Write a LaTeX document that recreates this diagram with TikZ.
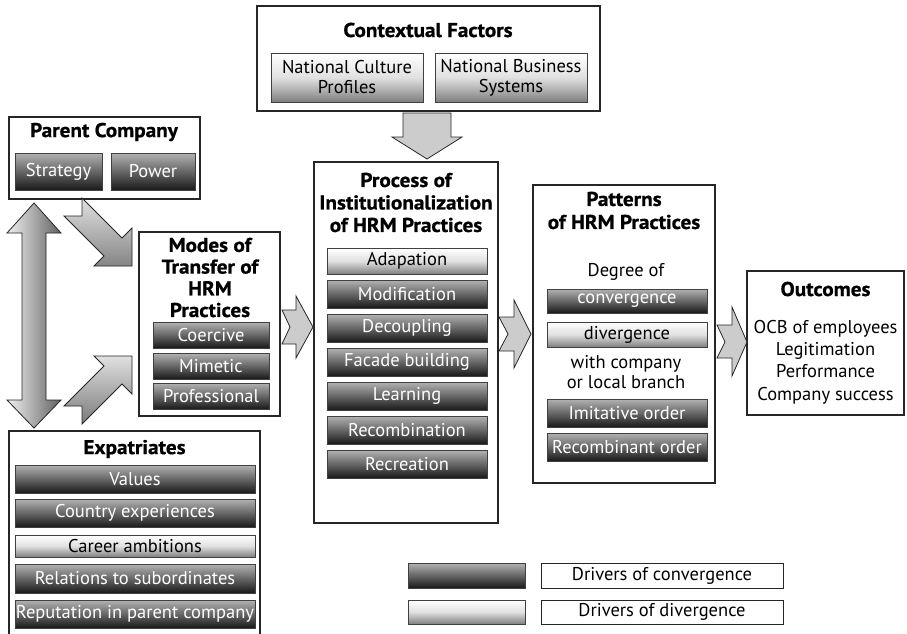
\documentclass[tikz,border=0pt]{standalone}
\usepackage{fontspec}
\setmainfont{PT Sans}
\newfontfamily\headfont{PT Sans}[UprightFont={* Bold}, FakeStretch=1.06, FakeBold=0.8]
\tikzset{
  frame/.style={draw=black!85, line width=1.3pt, fill=white},
  bartext/.style={font=\fontsize{18.5}{20}\selectfont},
  darkbar/.style={draw=black!75, line width=0.9pt, top color=black!30, bottom color=black!90, middle color=black!60, text=white, inner sep=0pt, bartext},
  lightbar/.style={draw=black!75, line width=0.9pt, top color=white, bottom color=black!50, middle color=black!12, text=black, inner sep=0pt, bartext},
  plainbox/.style={draw=black!85, line width=0.8pt, fill=white, inner sep=0pt, bartext},
  heading/.style={font=\headfont\fontsize{20}{22}\selectfont, align=center, inner sep=0pt},
  plaintext/.style={bartext, align=center, inner sep=0pt},
  blockarrow/.style={draw=black!85, line width=0.8pt, fill=black!20, line join=miter},
}
% box given by its corners: style, name, x1, y1, x2, y2, text
\newcommand\cornerbox[7]{\node[#1, minimum width={#5-#3}, minimum height={#6-#4}, align=center]
  (#2) at ({(#3+#5)/2},{(#4+#6)/2}) {#7};}
\begin{document}
\begin{tikzpicture}[x=1pt,y=-1pt]
\useasboundingbox (0,0) rectangle (907,633);

% ---------- frames ----------
\draw[frame] (257,6) rectangle (600,111);
\node[heading] (ctxtitle) at (428,30) {Contextual Factors};
\cornerbox{lightbar}{culture}{271}{53}{423}{102}{National Culture\\Profiles}
\cornerbox{lightbar}{business}{435}{53}{587}{102}{National Business\\Systems}

\draw[frame] (9,117) rectangle (200,199);
\node[heading] (parenttitle) at (104,132) {Parent Company};
\cornerbox{darkbar}{strategy}{15}{153}{102}{190}{Strategy}
\cornerbox{darkbar}{power}{111}{153}{195}{190}{Power}

\draw[frame] (139,232) rectangle (280,416);
\node[heading, font=\headfont\fontsize{20}{21.7}\selectfont] (modestitle) at (210,277.5) {Modes of\\Transfer of\\HRM\\Practices};
\cornerbox{darkbar}{coercive}{153}{322}{269}{348}{Coercive}
\cornerbox{darkbar}{mimetic}{153}{353}{269}{379}{Mimetic}
\cornerbox{darkbar}{professional}{153}{383}{269}{409}{Professional}

\draw[frame] (314,162) rectangle (498,523);
\node[heading, font=\headfont\fontsize{20}{22.5}\selectfont] (proctitle) at (406,202.5) {Process of\\Institutionalization\\of HRM Practices};
\cornerbox{lightbar}{adapation}{327}{248}{487}{274}{Adapation}
\cornerbox{darkbar}{modification}{327}{280}{487}{308}{Modification}
\cornerbox{darkbar}{decoupling}{327}{314}{487}{342}{Decoupling}
\cornerbox{darkbar}{facade}{327}{348}{487}{376}{Facade building}
\cornerbox{darkbar}{learning}{327}{382}{487}{410}{Learning}
\cornerbox{darkbar}{recombination}{327}{416}{487}{444}{Recombination}
\cornerbox{darkbar}{recreation}{327}{450}{487}{478}{Recreation}

\draw[frame] (533,185) rectangle (715,483);
\node[heading, font=\headfont\fontsize{20}{23}\selectfont] (pattitle) at (624,210.5) {Patterns\\of HRM Practices};
\node[plaintext] (degree) at (626,272) {Degree of};
\cornerbox{darkbar}{convergence}{547}{289}{707}{313}{convergence}
\cornerbox{lightbar}{divergence}{547}{322}{707}{347}{divergence}
\node[plaintext, font=\fontsize{18.5}{20}\selectfont] (withcompany) at (626,372) {with company\\or local branch};
\cornerbox{darkbar}{imitative}{547}{399}{707}{427}{Imitative order}
\cornerbox{darkbar}{recombinant}{547}{433}{707}{461}{Recombinant order}

\draw[frame] (747,271) rectangle (904,415);
\node[heading] (outtitle) at (825.5,289) {Outcomes};
\node[plaintext, font=\fontsize{18.5}{22.3}\selectfont] (outlist) at (825.5,362) {OCB of employees\\Legitimation\\Performance\\Company success};

% expatriates frame runs off the lower edge
\draw[frame, fill=none] (9,640) -- (9,431) -- (260,431) -- (260,640);
\node[heading] (exptitle) at (134.5,449) {Expatriates};
\cornerbox{darkbar}{values}{15}{465}{255}{493}{Values}
\cornerbox{darkbar}{country}{15}{499}{255}{527}{Country experiences}
\cornerbox{lightbar}{career}{15}{535}{255}{557}{Career ambitions}
\cornerbox{darkbar}{relations}{15}{564}{255}{593}{Relations to subordinates}
\cornerbox{darkbar}{reputation}{15}{600}{255}{628}{Reputation in parent company}

% ---------- legend ----------
\cornerbox{darkbar}{keydark}{408}{563}{525}{588}{}
\cornerbox{plainbox}{keyconv}{541}{563}{783}{588}{Drivers of convergence}
\cornerbox{lightbar}{keylight}{408}{600}{525}{624}{}
\cornerbox{plainbox}{keydiv}{541}{600}{783}{624}{Drivers of divergence}

% ---------- block arrows ----------
% contextual factors down into the process
\draw[blockarrow] (403,113) -- (451,113) -- (451,137) -- (462,137) -- (427,159)
  -- (392,137) -- (403,137) -- cycle;
% modes -> process
\draw[blockarrow] (282,310) -- (296,310) -- (296,296) -- (313,327) -- (296,358)
  -- (296,344) -- (282,344) -- (290,327) -- cycle;
% process -> patterns
\draw[blockarrow] (499,317) -- (514,317) -- (514,300) -- (531,334) -- (514,368)
  -- (514,351) -- (499,351) -- (508,334) -- cycle;
% patterns -> outcomes
\draw[blockarrow] (717,325) -- (732,325) -- (732,307) -- (747,342) -- (732,376)
  -- (732,358) -- (717,358) -- (725,342) -- cycle;
% parent company -> modes
\draw[blockarrow, top color=black!12, bottom color=black!48] (82,198) -- (122,238) -- (132,228)
  -- (132,266) -- (94,266) -- (104,256) -- (64,216) -- (82,216) -- cycle;
% expatriates -> modes
\draw[blockarrow, top color=black!12, bottom color=black!52] (82,424) -- (122,384) -- (132,394)
  -- (132,356) -- (94,356) -- (104,366) -- (64,406) -- (82,406) -- cycle;
% parent company <-> expatriates
\draw[blockarrow, left color=black!6, right color=black!62] (34,203) -- (61,233) -- (46,233)
  -- (46,400) -- (61,400) -- (34,428) -- (7,400) -- (22,400) -- (22,233) -- (7,233) -- cycle;
\end{tikzpicture}
\end{document}
